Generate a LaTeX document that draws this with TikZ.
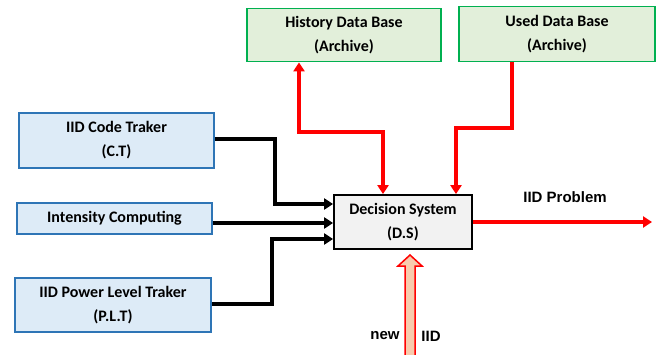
\documentclass[tikz,border=0pt]{standalone}
\usepackage{fontspec}
\setmainfont{Carlito}
\newfontfamily\arialb{Liberation Sans}
\usetikzlibrary{arrows.meta,positioning,calc}
\definecolor{bfill}{HTML}{DDEBF7}
\definecolor{bline}{HTML}{2E75B6}
\definecolor{gfill}{HTML}{E2EFDA}
\definecolor{gline}{HTML}{00B050}
\definecolor{dsfill}{HTML}{F2F2F2}
\definecolor{peach}{HTML}{F8CBAD}
\tikzset{
  boxbase/.style={draw, line width=1.8pt, align=center, inner sep=0pt,
    font=\fontsize{16}{24}\selectfont\bfseries},
  bluebox/.style={boxbase, draw=bline, fill=bfill},
  greenbox/.style={boxbase, draw=gline, fill=gfill},
  dsbox/.style={boxbase, draw=black, fill=dsfill},
  blk/.style={line width=3.5pt, -{Triangle[length=9pt,width=11pt]}},
  rd/.style={line width=3.5pt, red, -{Triangle[length=9pt,width=11pt]}},
  rdd/.style={line width=3.5pt, red, {Triangle[length=9pt,width=11pt]}-{Triangle[length=9pt,width=11pt]}},
  lbl/.style={font=\fontsize{15}{18}\selectfont\arialb\bfseries, inner sep=0pt}
}
\begin{document}
\begin{tikzpicture}[x=1pt,y=-1pt]
\useasboundingbox (0,0) rectangle (660,355);
\node[greenbox, minimum width=194pt, minimum height=53pt] (hist) at (344,35) {History Data Base\\(Archive)};
\node[greenbox, minimum width=196pt, minimum height=55pt] (used) at (557,34) {Used Data Base\\(Archive)};
\node[bluebox, minimum width=195pt, minimum height=55pt] (ct) at (116.5,140.5) {IID Code Traker\\(C.T)};
\node[bluebox, minimum width=195pt, minimum height=31pt] (ic) at (114.5,218.5) {Intensity Computing};
\node[bluebox, minimum width=196pt, minimum height=54pt] (plt) at (113,305) {IID Power Level Traker\\(P.L.T)};
\node[dsbox, minimum width=138pt, minimum height=54pt] (ds) at (403,222) {Decision System\\(D.S)};
% black inputs
\draw[blk] (ct.east |- 0,139) -| (275,204) -- (ds.west |- 0,204);
\draw[blk] (ic.east |- 0,223) -- (ds.west |- 0,223);
\draw[blk] (plt.east |- 0,304) -| (272,239) -- (ds.west |- 0,239);
% red links
\draw[rdd] (ds.north -| 383,0) |- (299,132) -- (hist.south -| 299,0);
\draw[rd] (used.south -| 512,0) |- (456,128) -- (ds.north -| 456,0);
% output
\draw[rd] (ds.east) -- (652,222);
\node[lbl] (prob) at (565,197) {IID Problem};
% new IID arrow
\coordinate (tip) at (410,255);
\filldraw[draw=red, fill=peach, line width=1.5pt]
  (tip) -- (422,266) -- (415,266) -- (415,358) -- (405,358) -- (405,266) -- (398,266) -- cycle;
\node[lbl] (nw) at (385,336) {new};
\node[lbl] (iid) at (431,336) {IID};
\end{tikzpicture}
\end{document}
